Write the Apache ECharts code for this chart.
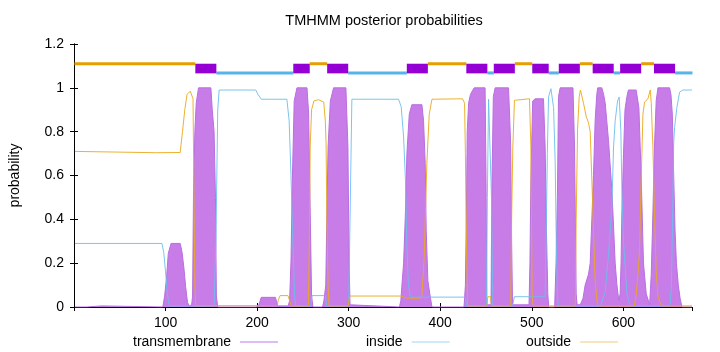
<!DOCTYPE html>
<html>
<head>
<meta charset="utf-8">
<script src="https://cdn.jsdelivr.net/npm/echarts@6/dist/echarts.min.js"></script>
<style>html,body{margin:0;padding:0;background:#fff}#c{width:720px;height:352px}</style>
</head>
<body>
<div id="c"></div>
<script>
// [residue position, posterior probability]
const transmembrane = [
  [1,0],[14,0],[15,0.005],[30,0.005],[31,0],[97,0],[99,0.05],[101,0.13],[103,0.245],[106,0.29],[116,0.29],
  [118,0.25],[120,0.18],[122,0.09],[124,0.02],[126,0.005],[128.5,0.01],[129.5,0.05],[130.5,0.5],[132,0.8],
  [133.5,0.93],[136,1.0],[149.5,1.0],[151,0.9],[153,0.8],[154.5,0.5],[155.5,0.05],[157,0],[199,0],[202,0.01],
  [204.5,0.044],[220,0.044],[222.5,0.005],[234,0.005],[235.5,0.03],[237,0.21],[238.5,0.58],[240.5,0.94],
  [243.5,1.0],[254.5,1.0],[256.3,0.88],[258,0.43],[259.5,0.05],[261,0],[271.5,0],[273,0.03],[275,0.1],
  [276.5,0.5],[277.5,0.73],[280,0.94],[283.5,1.0],[297,1.0],[299.2,0.73],[300.5,0.2],[301.5,0.01],[355.5,0],
  [357,0.03],[358,0.09],[360,0.2],[362,0.43],[363.6,0.7],[366.2,0.88],[369,0.923],[380,0.923],[381.8,0.85],
  [383.6,0.655],[384.7,0.35],[386.5,0.12],[389,0.05],[391,0],[426,0],[427.5,0.1],[428.5,0.4],[429.5,0.8],
  [431,0.93],[433,0.97],[437,1.0],[449,1.0],[450,0.6],[451,0.01],[455.5,0.01],[456.3,0.5],[458,0.96],
  [460,1.0],[474.6,1.0],[476,0.85],[477,0.73],[478,0.3],[479,0.01],[497,0.01],[498,0.2],[499,0.58],
  [501,0.94],[503.7,0.95],[512.8,0.95],[514.6,0.73],[516,0.35],[517.5,0.06],[518.5,0],[525,0],[526.5,0.2],
  [528,0.5],[529.2,0.96],[531,1.0],[545,1.0],[546.7,0.73],[548.5,0.06],[549.5,0.01],[553,0.01],[556,0.04],
  [558.3,0.1],[562,0.15],[563.8,0.2],[565.6,0.4],[567.4,0.6],[569.2,0.85],[571,0.97],[572,1.0],[576.5,1.0],
  [578.5,0.97],[580.2,0.93],[583.8,0.76],[587.5,0.53],[589.3,0.37],[591.1,0.2],[593,0.1],[595,0.03],
  [596.5,0.06],[597.5,0.2],[598.5,0.45],[600.2,0.7],[601.8,0.9],[603.9,0.96],[605.5,0.99],[614,0.99],
  [617,0.91],[619.6,0.58],[622,0.2],[625,0.06],[628.7,0.01],[630.5,0.15],[632.3,0.43],[634,0.73],
  [635.9,0.94],[637.8,1.0],[650.5,1.0],[652,0.97],[653.5,0.88],[655,0.6],[656.5,0.35],[658,0.2],[660,0.1],
  [662,0.04],[664,0],[675,0]
];
const inside = [
  [1,0.29],[96,0.29],[98,0.25],[100,0.16],[102,0.06],[104,0.005],[153,0.005],[155,0.3],[157,0.9],[158.5,0.99],
  [198.5,0.99],[201,0.97],[204.5,0.948],[232.5,0.948],[235,0.85],[237,0.6],[239,0.3],[241,0.05],[242,0.005],
  [258.5,0.005],[260,0.052],[274.5,0.052],[276,0.005],[300,0.005],[301.5,0.4],[303.5,0.948],[354.5,0.948],
  [357.4,0.913],[360,0.776],[362,0.58],[363.6,0.275],[365,0.12],[367.3,0.045],[427,0.045],[429,0.005],
  [450.5,0.005],[451.5,0.5],[452.8,0.948],[454.6,0.948],[456,0.5],[457.5,0.005],[479,0.005],[481,0.047],
  [514.6,0.047],[516,0.4],[517,0.7],[518.3,0.958],[520.9,0.996],[523.8,0.91],[525.6,0.655],[526.8,0.28],
  [528.1,0.047],[529,0.005],[575,0.005],[580.2,0.07],[583.8,0.24],[587.5,0.46],[589.3,0.73],[591.1,0.85],
  [593.7,0.94],[595.5,0.958],[597.3,0.8],[598.4,0.53],[600.2,0.3],[603.9,0.06],[607.5,0.005],[651,0.005],
  [652.5,0.1],[654,0.45],[655,0.75],[656,0.82],[658.5,0.91],[661.4,0.98],[665,0.99],[675,0.99]
];
const outside = [
  [1,0.71],[60,0.706],[90,0.704],[116,0.705],[118.5,0.8],[121,0.9],[123.5,0.97],[125,0.965],[127,0.985],
  [129,0.99],[130,0.95],[131,0.5],[132,0.1],[133,0.006],[222,0.006],[223,0.03],[225,0.052],[233.7,0.052],
  [235.5,0.03],[237.3,0.005],[256,0.005],[257,0.3],[258,0.73],[259.5,0.9],[262,0.94],[267,0.946],
  [272.8,0.935],[274.5,0.85],[275.3,0.75],[276.2,0.4],[277.5,0.1],[278.5,0.005],[299.5,0.005],[301,0.05],
  [357,0.05],[359,0.045],[364,0.04],[378,0.04],[380,0.05],[382.5,0.23],[385.4,0.655],[388,0.88],[391,0.948],
  [424.4,0.95],[426.6,0.93],[427.5,0.7],[428,0.5],[429,0.2],[430,0.005],[451,0.005],[452,0.047],[455,0.047],
  [456,0.005],[477,0.005],[478,0.4],[479.3,0.73],[481.1,0.943],[497.5,0.95],[499,0.73],[500.4,0.05],
  [501.5,0.005],[547.5,0.005],[548.5,0.4],[550,0.81],[551.8,0.96],[553.2,0.99],[556.5,0.93],[559.4,0.87],
  [562,0.84],[563.8,0.8],[565.6,0.58],[567.4,0.35],[569.2,0.12],[571.8,0.005],[612,0.005],[614.1,0.06],
  [616,0.15],[617.7,0.26],[619.5,0.58],[621.4,0.88],[623.2,0.935],[626.8,0.95],[629.4,0.99],[630.5,0.93],
  [632.3,0.73],[634,0.43],[635.9,0.16],[637.8,0.05],[641,0.01],[645,0.005],[675,0.005]
];
// predicted topology segments [start, end]
const outsideSegments = [[1,132],[258,276],[387,428],[482,500],[553,566],[620,633]];
const insideSegments = [[156,239],[300,363],[452,458],[519,529],[590,596],[657,675]];
const tmSegments = [[133,155],[240,257],[277,299],[364,386],[429,451],[459,481],[501,518],[530,552],[567,589],[597,619],[634,656]];
const seqLength = 675;
const titleText = 'TMHMM posterior probabilities';

const FONT = 'Liberation Sans, Arial, Helvetica, sans-serif';
const C_TM = '#b86fe0', C_TM_FILL = '#c77ce8', C_IN = '#6cbfec', C_OUT = '#eaa91a', C_BOX = '#9400d3';
const C_IN_BAR = '#56b4e9', C_OUT_BAR = '#e69f00';

function segRenderer(kind) {
  return function (params, api) {
    const s = api.value(0) - 0.5, e = api.value(1) + 0.5;
    if (kind === 'tm') {
      const p1 = api.coord([s, 1.11]), p2 = api.coord([e, 1.066]);
      return {type: 'rect', shape: {x: p1[0], y: p1[1], width: p2[0] - p1[0], height: p2[1] - p1[1]},
              style: {fill: C_BOX}};
    }
    const lvl = kind === 'out' ? 1.11 : 1.068;
    const p1 = api.coord([s, lvl]), p2 = api.coord([e, lvl]);
    return {type: 'rect', shape: {x: p1[0], y: p1[1] - 1.5, width: p2[0] - p1[0], height: 3},
            style: {fill: kind === 'out' ? C_OUT_BAR : C_IN_BAR}};
  };
}

const chart = echarts.init(document.getElementById('c'), null, {renderer: 'canvas'});
const axisCommon = {
  axisLine: {show: true, lineStyle: {color: '#000', width: 1}},
  axisTick: {show: true, inside: true, length: 4, lineStyle: {color: '#000'}},
  splitLine: {show: false}
};
const legendCommon = {align: 'right', padding: 0, itemWidth: 38, itemHeight: 1.2, top: 335,
  textStyle: {fontSize: 14, color: '#000', fontFamily: FONT, padding: [0, 4, 0, 0]}};
chart.setOption({
  animation: false,
  textStyle: {fontFamily: FONT},
  title: {text: titleText, left: 384, top: 13, textAlign: 'center', padding: 0,
          textStyle: {fontSize: 14.5, fontWeight: 'normal', color: '#000', fontFamily: FONT}},
  grid: {left: 74, right: 28, top: 44, bottom: 45, containLabel: false},
  legend: [
    Object.assign({data: [{name: 'transmembrane', icon: 'rect', itemStyle: {color: '#c07ae8'}}], left: 133}, legendCommon),
    Object.assign({data: [{name: 'inside', icon: 'rect', itemStyle: {color: '#a3d5f0'}}], left: 366}, legendCommon),
    Object.assign({data: [{name: 'outside', icon: 'rect', itemStyle: {color: '#f2cc80'}}], left: 526}, legendCommon)
  ],
  xAxis: [
    Object.assign({type: 'value', min: 0, max: seqLength, interval: 100, position: 'bottom',
      axisLabel: {showMinLabel: false, showMaxLabel: false, fontSize: 14, color: '#000', margin: 9, fontFamily: FONT}}, axisCommon),
    Object.assign({type: 'value', min: 0, max: seqLength, interval: 100, position: 'top',
      axisLabel: {show: false}}, axisCommon)
  ],
  yAxis: [
    Object.assign({type: 'value', min: 0, max: 1.2, interval: 0.2, position: 'left',
      name: 'probability', nameLocation: 'middle', nameGap: 52, nameRotate: 90,
      nameTextStyle: {fontSize: 14, color: '#000', fontFamily: FONT},
      axisLabel: {fontSize: 14, color: '#000', margin: 10, fontFamily: FONT}}, axisCommon),
    Object.assign({type: 'value', min: 0, max: 1.2, interval: 0.2, position: 'right',
      axisLabel: {show: false}}, axisCommon)
  ],
  series: [
    {name: 'transmembrane', type: 'line', data: transmembrane, symbol: 'none', color: C_TM,
     lineStyle: {color: C_TM, width: 1}, areaStyle: {color: C_TM_FILL, opacity: 1}},
    {name: 'inside', type: 'line', data: inside, symbol: 'none', color: C_IN,
     lineStyle: {color: C_IN, width: 1, opacity: 0.9}},
    {name: 'outside', type: 'line', data: outside, symbol: 'none', color: C_OUT,
     lineStyle: {color: C_OUT, width: 1, opacity: 0.9}},
    {type: 'custom', renderItem: segRenderer('out'), data: outsideSegments, encode: {x: [0, 1]}, z: 5},
    {type: 'custom', renderItem: segRenderer('in'), data: insideSegments, encode: {x: [0, 1]}, z: 5},
    {type: 'custom', renderItem: segRenderer('tm'), data: tmSegments, encode: {x: [0, 1]}, z: 6}
  ]
});
</script>
</body>
</html>
